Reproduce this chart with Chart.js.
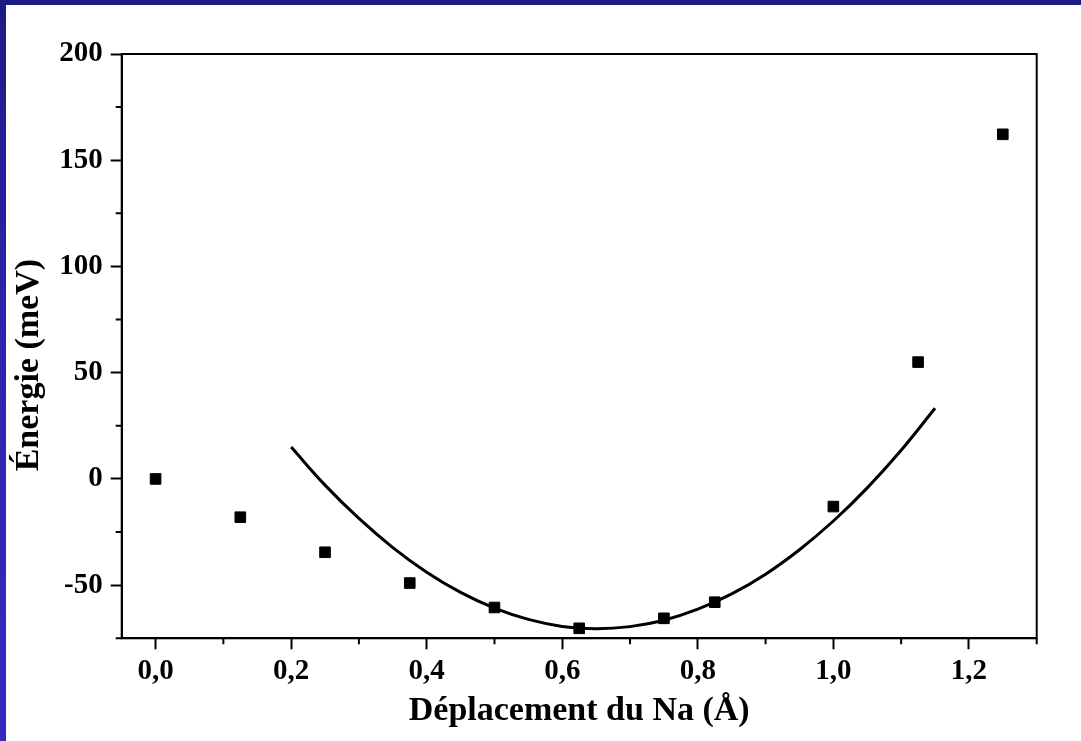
<!DOCTYPE html>
<html>
<head>
<meta charset="utf-8">
<script src="https://cdn.jsdelivr.net/npm/chart.js@4/dist/chart.umd.min.js"></script>
<style>
  html, body { margin: 0; padding: 0; }
  body {
    width: 1081px; height: 741px; overflow: hidden;
    background: linear-gradient(180deg, #1b1b84 0%, #2a26ae 45%, #3429c2 100%);
  }
  #wrap {
    position: absolute; left: 6px; top: 5px;
    width: 1075px; height: 736px; background: #fff;
  }
</style>
</head>
<body>
<div id="wrap"><canvas id="chart"></canvas></div>
<script>
// Mesures (carrés)
const dispX  = [0, 0.125, 0.25, 0.375, 0.5, 0.625, 0.75, 0.825, 1.0, 1.125, 1.25];
const energy = [0, -18, -34.5, -49, -60.5, -70.3, -65.6, -58, -13, 55, 162.2];

// Ajustement (courbe)
const fitX = [0.20, 0.25, 0.30, 0.35, 0.40, 0.45, 0.50, 0.55, 0.60, 0.65,
              0.70, 0.75, 0.80, 0.85, 0.90, 0.95, 1.00, 1.05, 1.10, 1.15];
const fitY = [15.0, -2.9, -18.6, -32.3, -43.9, -53.4, -60.8, -66.1, -69.4, -70.5,
              -69.5, -66.5, -61.3, -54.1, -44.8, -33.3, -19.8, -4.2, 13.5, 33.3];

// Graduations
const xTicks      = [0, 0.2, 0.4, 0.6, 0.8, 1.0, 1.2];
const xTickLabels = ['0,0', '0,2', '0,4', '0,6', '0,8', '1,0', '1,2'];
const xMinor      = [0.1, 0.3, 0.5, 0.7, 0.9, 1.1, 1.3];
const yTicks      = [-50, 0, 50, 100, 150, 200];
const yTickLabels = ['-50', '0', '50', '100', '150', '200'];
const yMinor      = [-75, -25, 25, 75, 125, 175];

const serif = 'Liberation Serif, "Times New Roman", serif';
const yTitle = 'Énergie (meV)';

// cadre haut/droite, petites graduations, titre de l'axe y
const framePlugin = {
  id: 'frame',
  afterDraw(chart) {
    const { ctx, chartArea: a, scales: { x, y } } = chart;
    ctx.save();
    ctx.strokeStyle = '#000';
    ctx.lineWidth = 2;
    ctx.strokeRect(a.left, a.top, a.right - a.left, a.bottom - a.top);
    ctx.beginPath();
    xMinor.forEach(v => {
      const px = x.getPixelForValue(v);
      ctx.moveTo(px, a.bottom);
      ctx.lineTo(px, a.bottom + 6);
    });
    yMinor.forEach(v => {
      const py = y.getPixelForValue(v);
      ctx.moveTo(a.left, py);
      ctx.lineTo(a.left - 6, py);
    });
    ctx.stroke();

    // titre y, un peu plus bas que le centre (comme l'original)
    ctx.translate(23, (a.top + a.bottom) / 2 + 19);
    ctx.rotate(-Math.PI / 2);
    ctx.fillStyle = '#000';
    ctx.font = 'bold 34px ' + serif;
    ctx.textAlign = 'center';
    ctx.textBaseline = 'middle';
    ctx.fillText(yTitle, 0, 0);
    ctx.restore();
  }
};

new Chart(document.getElementById('chart'), {
  type: 'scatter',
  data: {
    datasets: [
      {
        label: 'fit',
        data: fitX.map((v, i) => ({ x: v, y: fitY[i] })),
        showLine: true,
        borderColor: '#000',
        borderWidth: 3,
        pointRadius: 0,
        tension: 0.4,
        fill: false
      },
      {
        label: 'calc',
        data: dispX.map((v, i) => ({ x: v, y: energy[i] })),
        pointStyle: 'rect',
        pointRadius: 7.5,
        backgroundColor: '#000',
        borderColor: '#000',
        borderWidth: 1
      }
    ]
  },
  options: {
    responsive: true,
    maintainAspectRatio: false,
    animation: false,
    layout: { padding: { top: 49, right: 44.3, left: 1, bottom: 9 } },
    plugins: { legend: { display: false }, tooltip: { enabled: false } },
    scales: {
      x: {
        type: 'linear',
        min: -0.05, max: 1.3,
        afterBuildTicks: s => { s.ticks = xTicks.map(v => ({ value: v })); },
        afterFit: s => { s.height = 93.7; },
        grid: { drawOnChartArea: false, tickLength: 11, tickWidth: 2, tickColor: '#000' },
        border: { display: true, color: '#000', width: 2 },
        ticks: {
          autoSkip: false, maxRotation: 0, padding: 5, color: '#000',
          font: { family: serif, size: 29, weight: 'bold' },
          callback: (v, i) => xTickLabels[i]
        },
        title: {
          display: true, text: 'Déplacement du Na (Å)', color: '#000', padding: 0,
          font: { family: serif, size: 34, weight: 'bold' }
        }
      },
      y: {
        type: 'linear',
        min: -75, max: 200,
        afterBuildTicks: s => { s.ticks = yTicks.map(v => ({ value: v })); },
        afterFit: s => { s.width = 114.7; },
        grid: { drawOnChartArea: false, tickLength: 11, tickWidth: 2, tickColor: '#000' },
        border: { display: true, color: '#000', width: 2 },
        ticks: {
          autoSkip: false, padding: 8, color: '#000',
          font: { family: serif, size: 29, weight: 'bold' },
          callback: (v, i) => yTickLabels[i]
        },
        title: { display: false }
      }
    }
  },
  plugins: [framePlugin]
});
</script>
</body>
</html>
